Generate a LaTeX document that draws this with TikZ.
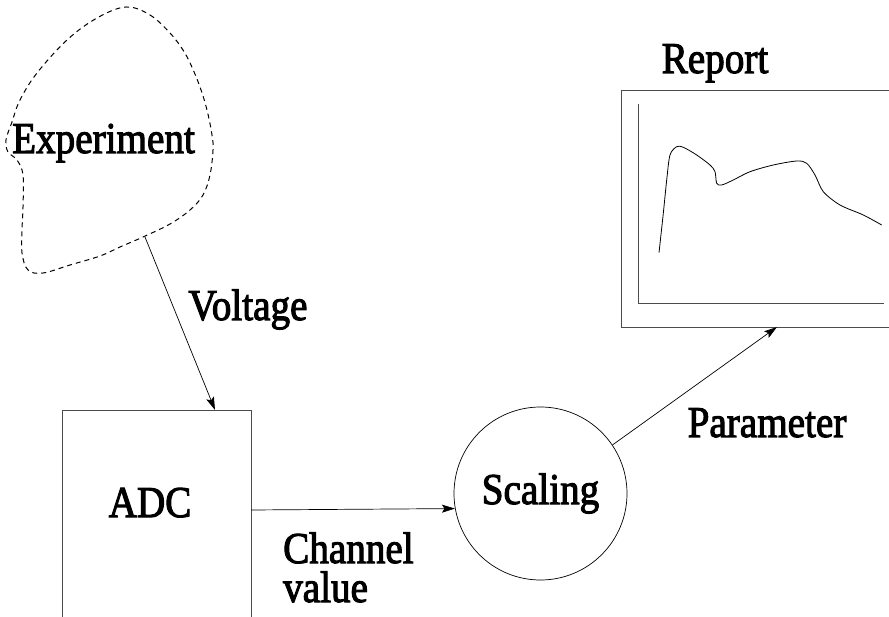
\documentclass[tikz,border=0pt]{standalone}
\usepackage{fontspec}
\usepackage{graphicx}
\setmainfont{Liberation Serif}[FakeBold=2.5]
\usetikzlibrary{arrows.meta}
\newcommand{\sq}[1]{\scalebox{0.89}[1]{#1}}
\tikzset{
  lbl/.style={inner sep=0pt, anchor=base, font=\rmfamily\fontsize{44}{39}\selectfont},
  frameline/.style={draw=black!70, line width=0.9pt},
  conn/.style={draw=black, line width=0.7pt, -{Stealth[length=13pt,width=8pt,inset=2.5pt]}},
  blob/.style={draw=black, line width=1pt, dash pattern=on 5pt off 4pt}
}
\begin{document}
\begin{tikzpicture}[x=1pt,y=-1pt]
\useasboundingbox (0,0) rectangle (889,617);
% Experiment cloud
\draw[blob] plot[smooth cycle, tension=0.6] coordinates {
 (126,7) (150,15) (170,33) (183,50) (191,65) (200,87) (207,110) (212,135) (213,150) (210,175) (203,195)
 (190,210) (170,224) (143,237) (120,247) (100,256) (70,265) (43,273) (28,270) (22,253) (22,230) (23,207) (23,175)
 (17,160) (8,152) (6,140) (12,122) (20,100) (37,73) (67,40) (97,18)};
\node[lbl] (exp) at (103.5,153) {\sq{Experiment}};
\coordinate (vstart) at (145,237);
% ADC box
\node[frameline, rectangle, minimum width=189pt, minimum height=240pt, anchor=north west, inner sep=0pt] (adcbox) at (62,410) {};
\node[lbl] (adc) at (150,517) {\sq{ADC}};
\coordinate (vend) at (215,410);
\draw[conn] (vstart) -- (vend);
\node[lbl] (volt) at (248,320) {\sq{Voltage}};
% Scaling
\node[draw=black, line width=0.7pt, circle, minimum size=173pt, inner sep=0pt, lbl, anchor=center] (scal) at (540.5,493.5) {\sq{Scaling}};
\coordinate (cstart) at (251,510);
\draw[conn] (cstart) -- (scal.190);
\node[lbl, anchor=base west, align=left] (chan) at (283,602) {\sq{Channel}\\\sq{value}};
% Report
\node[frameline, rectangle, minimum width=280pt, minimum height=237pt, anchor=north west, inner sep=0pt] (rep) at (621,90) {};
\node[lbl] (reptxt) at (715,73) {\sq{Report}};
\coordinate (axtop) at (638,104);
\coordinate (axorig) at (638,303);
\coordinate (axend) at (884,303);
\draw[frameline] (axtop) -- (axorig) -- (axend);
\draw[black, line width=0.8pt] plot[smooth, tension=0.5] coordinates {
 (659,252.7) (663.3,213.3) (666.7,180) (670,155) (676.7,146.7) (683.3,147.3) (696.7,155) (710,165)
 (715,171.7) (716.7,183.3) (721.7,185) (733.3,180) (750,171.7) (773.3,165) (796.7,161) (806.7,163.3)
 (815,175) (823.3,191.7) (840,205) (863.3,215) (881.7,225)};
\coordinate (pend) at (777,327);
\draw[conn] (scal.34) -- (pend);
\node[lbl] (param) at (767,437) {\sq{Parameter}};
\end{tikzpicture}
\end{document}
